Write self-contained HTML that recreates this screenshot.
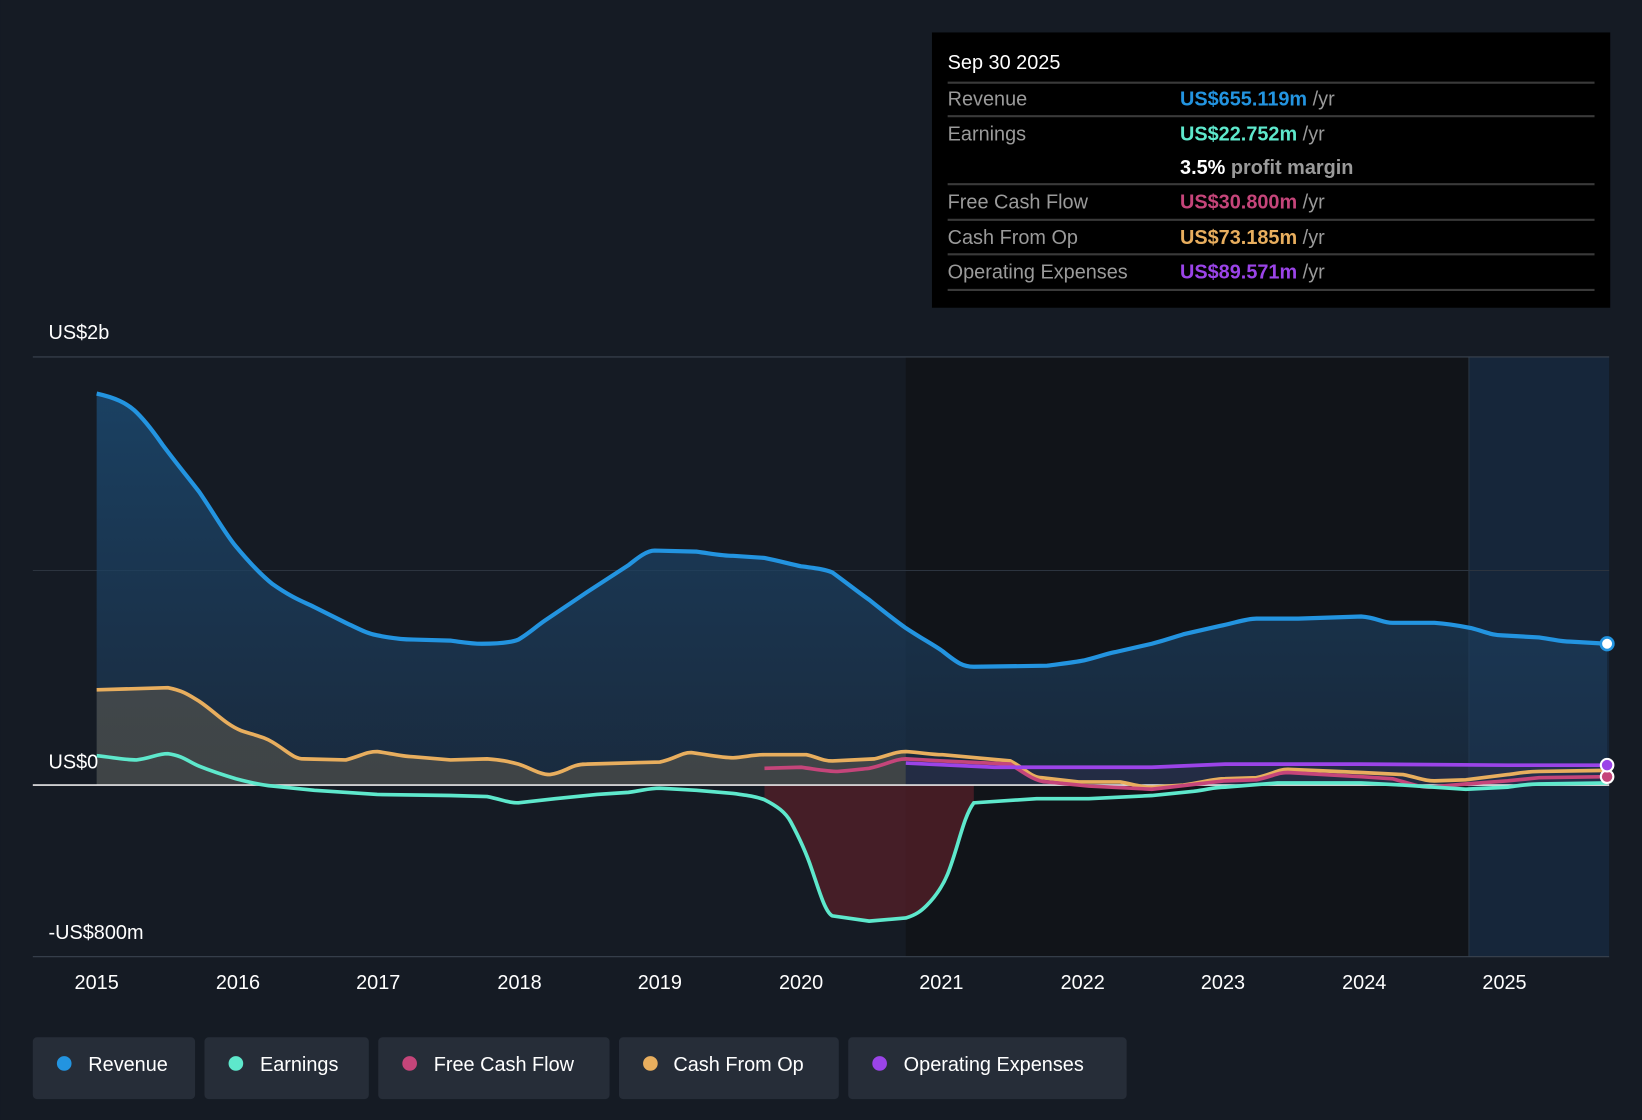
<!DOCTYPE html>
<html><head><meta charset="utf-8"><style>
html,body{margin:0;padding:0;background:#151b24;}
svg{display:block;font-family:"Liberation Sans",sans-serif;}
</style></head><body>
<svg width="1642" height="1120" viewBox="0 0 1568 1070" xmlns="http://www.w3.org/2000/svg">
<defs>
<linearGradient id="rg" x1="0" y1="0" x2="0" y2="1"><stop offset="0" stop-color="#1c4a72" stop-opacity="0.8"/><stop offset="1" stop-color="#1c3550" stop-opacity="0.6"/></linearGradient>
</defs>
<rect width="1568" height="1070" fill="#151b24"/>
<rect x="865" y="341" width="672" height="573" fill="#111419"/>
<rect x="1403" y="341" width="134" height="573" fill="#16263a"/>
<line x1="1403" y1="341" x2="1403" y2="914" stroke="#2a3644" stroke-width="1"/>
<line x1="31" y1="341" x2="1537" y2="341" stroke="#3a434f" stroke-width="1"/>
<line x1="31" y1="545" x2="1537" y2="545" stroke="#2c343f" stroke-width="1"/>
<line x1="31" y1="914" x2="1537" y2="914" stroke="#3a434f" stroke-width="1"/>
<!-- revenue fill -->
<path d="M92,750 L92,376 C110,380 120,385 128,392 C140,403 150,418 155,425 C170,445 180,457 190,470 C205,492 215,510 225,522 C240,540 250,550 260,558 C280,572 290,575 300,580 L330,595 C345,602 350,605 360,607 C375,610 385,611 395,611 L430,612 C445,614 450,615 460,615 C480,615 490,613 495,611 C505,605 510,600 520,593 L560,566 L600,540 C610,532 618,526 625,526 L665,527 C680,529 690,531 700,531 L730,533 C745,536 755,539 765,541 C780,543 788,544 795,547 C810,558 820,566 830,573 C845,585 855,593 865,600 C880,610 890,615 900,622 C915,634 920,637 930,637 L1000,636 C1015,634 1025,633 1035,631 C1048,628 1055,625 1065,623 L1100,615 C1115,611 1120,609 1130,606 L1165,598 C1180,595 1190,591 1200,591 L1240,591 L1300,589 C1315,590 1320,595 1330,595 L1370,595 C1385,596 1395,598 1405,600 C1420,604 1425,607 1435,607 L1470,609 C1485,611 1490,613 1500,613 L1535,615 L1535,750 Z" fill="url(#rg)"/>
<!-- cash op fill -->
<path d="M92,750 L92,659 L160,657 C175,660 180,664 190,670 C205,680 215,692 230,698 C245,703 252,704 260,709 C275,718 280,725 290,725 L330,726 C345,722 350,718 360,718 C375,720 385,723 395,723 L430,726 L465,725 C480,726 488,728 495,730 C505,733 515,740 525,740 C540,738 545,730 560,730 L630,728 C645,725 650,719 660,719 C675,721 690,724 700,724 C712,723 720,721 730,721 L770,721 C780,723 785,727 795,727 L835,725 C848,722 855,718 865,718 L865,750 Z" fill="#6e6450" fill-opacity="0.45"/>
<!-- earnings neg fill -->
<path d="M730,750 L730,764 C742,770 750,776 755,785 C762,798 770,815 775,830 C782,850 788,872 795,875 L830,880 L865,877 C875,874 880,870 885,865 C893,857 900,847 905,835 C915,810 920,780 930,767 L930,750 Z" fill="#5a1f2a" fill-opacity="0.7"/>
<path d="M865,750 L865,729 L950,733 L1100,733 L1170,730 L1300,730 L1440,731 L1535,731 L1535,750 Z" fill="#3a3456" fill-opacity="0.35"/>
<line x1="31" y1="750" x2="1537" y2="750" stroke="#e8e8e8" stroke-width="1.5"/>
<!-- lines -->
<path d="M92,376 C110,380 120,385 128,392 C140,403 150,418 155,425 C170,445 180,457 190,470 C205,492 215,510 225,522 C240,540 250,550 260,558 C280,572 290,575 300,580 L330,595 C345,602 350,605 360,607 C375,610 385,611 395,611 L430,612 C445,614 450,615 460,615 C480,615 490,613 495,611 C505,605 510,600 520,593 L560,566 L600,540 C610,532 618,526 625,526 L665,527 C680,529 690,531 700,531 L730,533 C745,536 755,539 765,541 C780,543 788,544 795,547 C810,558 820,566 830,573 C845,585 855,593 865,600 C880,610 890,615 900,622 C915,634 920,637 930,637 L1000,636 C1015,634 1025,633 1035,631 C1048,628 1055,625 1065,623 L1100,615 C1115,611 1120,609 1130,606 L1165,598 C1180,595 1190,591 1200,591 L1240,591 L1300,589 C1315,590 1320,595 1330,595 L1370,595 C1385,596 1395,598 1405,600 C1420,604 1425,607 1435,607 L1470,609 C1485,611 1490,613 1500,613 L1535,615" fill="none" stroke="#2394e0" stroke-width="4"/>
<path d="M92,659 L160,657 C175,660 180,664 190,670 C205,680 215,692 230,698 C245,703 252,704 260,709 C275,718 280,725 290,725 L330,726 C345,722 350,718 360,718 C375,720 385,723 395,723 L430,726 L465,725 C480,726 488,728 495,730 C505,733 515,740 525,740 C540,738 545,730 560,730 L630,728 C645,725 650,719 660,719 C675,721 690,724 700,724 C712,723 720,721 730,721 L770,721 C780,723 785,727 795,727 L835,725 C848,722 855,718 865,718 C880,719 890,721 900,721 L965,727 C980,735 985,743 995,743 L1030,747 L1070,747 C1085,750 1090,752 1100,752 L1130,750 C1150,747 1160,744 1170,744 L1200,743 C1215,740 1220,735 1230,735 L1300,738 L1340,740 C1355,743 1360,746 1370,746 L1400,745 L1440,740 C1455,738 1460,737 1470,737 L1535,736" fill="none" stroke="#e8ae5e" stroke-width="3.5"/>
<path d="M730,734 L765,733 C780,735 790,737 800,737 C815,736 820,735 830,734 C845,731 855,725 865,725 L900,727 L965,730 C980,740 990,747 1000,747 L1040,751 L1100,754 L1170,746 L1200,745 C1215,742 1220,738 1230,738 L1300,742 L1330,744 C1345,748 1355,752 1365,752 L1400,749 L1440,746 L1470,743 L1535,742" fill="none" stroke="#c5457a" stroke-width="3.5"/>
<path d="M92,722 C110,724 120,726 130,726 C145,724 150,720 160,720 C175,722 180,728 190,732 C205,738 215,741 225,744 C240,748 250,750 260,751 L300,755 L360,759 L430,760 L465,761 C480,764 485,767 495,767 L530,763 L570,759 L600,757 C615,755 620,753 630,753 L665,755 L700,758 C715,760 722,761 730,764 C742,770 750,776 755,785 C762,798 770,815 775,830 C782,850 788,872 795,875 L830,880 L865,877 C875,874 880,870 885,865 C893,857 900,847 905,835 C915,810 920,780 930,767 L990,763 L1040,763 L1100,760 L1140,756 C1155,754 1160,752 1170,752 L1220,748 L1300,748 L1340,750 L1400,754 L1440,752 C1455,750 1460,749 1470,749 L1535,748" fill="none" stroke="#5ee8cc" stroke-width="3.5"/>
<path d="M865,729 L950,733 L1100,733 L1170,730 L1300,730 L1440,731 L1535,731" fill="none" stroke="#9b44e8" stroke-width="3.5"/>
<circle cx="1535" cy="615" r="6" fill="#fff" stroke="#2394e0" stroke-width="2.5"/>
<circle cx="1535" cy="742" r="6" fill="#c5457a" stroke="#fff" stroke-width="2"/>
<circle cx="1535" cy="731" r="6" fill="#9b44e8" stroke="#fff" stroke-width="2"/>
<!-- axis labels -->
<g fill="#ffffff" font-size="19">
<text x="46" y="324">US$2b</text>
<text x="46" y="734">US$0</text>
<text x="46" y="897">-US$800m</text>
</g>
<g fill="#ffffff" font-size="19" text-anchor="middle">
<text x="92" y="945">2015</text><text x="227" y="945">2016</text><text x="361" y="945">2017</text><text x="496" y="945">2018</text><text x="630" y="945">2019</text><text x="765" y="945">2020</text><text x="899" y="945">2021</text><text x="1034" y="945">2022</text><text x="1168" y="945">2023</text><text x="1303" y="945">2024</text><text x="1437" y="945">2025</text>
</g>
<!-- tooltip -->
<rect x="890" y="31" width="648" height="263" fill="#000"/>
<g stroke="#3a3a3a" stroke-width="2">
<line x1="905" y1="79" x2="1523" y2="79"/><line x1="905" y1="111" x2="1523" y2="111"/><line x1="905" y1="176" x2="1523" y2="176"/><line x1="905" y1="210" x2="1523" y2="210"/><line x1="905" y1="243" x2="1523" y2="243"/><line x1="905" y1="277" x2="1523" y2="277"/>
</g>
<g font-size="19">
<text x="905" y="66" fill="#fff">Sep 30 2025</text>
<text x="905" y="101" fill="#9a9a9a">Revenue</text>
<text x="1127" y="101" fill="#2394e0" font-weight="bold">US$655.119m <tspan fill="#9a9a9a" font-weight="normal">/yr</tspan></text>
<text x="905" y="134" fill="#9a9a9a">Earnings</text>
<text x="1127" y="134" fill="#5ee8cc" font-weight="bold">US$22.752m <tspan fill="#9a9a9a" font-weight="normal">/yr</tspan></text>
<text x="1127" y="166" fill="#fff" font-weight="bold">3.5% <tspan fill="#9a9a9a">profit margin</tspan></text>
<text x="905" y="199" fill="#9a9a9a">Free Cash Flow</text>
<text x="1127" y="199" fill="#c5457a" font-weight="bold">US$30.800m <tspan fill="#9a9a9a" font-weight="normal">/yr</tspan></text>
<text x="905" y="233" fill="#9a9a9a">Cash From Op</text>
<text x="1127" y="233" fill="#e8ae5e" font-weight="bold">US$73.185m <tspan fill="#9a9a9a" font-weight="normal">/yr</tspan></text>
<text x="905" y="266" fill="#9a9a9a">Operating Expenses</text>
<text x="1127" y="266" fill="#9b44e8" font-weight="bold">US$89.571m <tspan fill="#9a9a9a" font-weight="normal">/yr</tspan></text>
</g>
<!-- legend -->
<g fill="#262d38">
<rect x="31" y="991" width="155" height="59" rx="4"/><rect x="195" y="991" width="157" height="59" rx="4"/><rect x="361" y="991" width="221" height="59" rx="4"/><rect x="591" y="991" width="210" height="59" rx="4"/><rect x="810" y="991" width="266" height="59" rx="4"/>
</g>
<circle cx="61" cy="1016" r="7" fill="#2394e0"/><circle cx="225" cy="1016" r="7" fill="#5ee8cc"/><circle cx="391" cy="1016" r="7" fill="#c5457a"/><circle cx="621" cy="1016" r="7" fill="#e8ae5e"/><circle cx="840" cy="1016" r="7" fill="#9b44e8"/>
<g fill="#fff" font-size="19">
<text x="84" y="1023">Revenue</text><text x="248" y="1023">Earnings</text><text x="414" y="1023">Free Cash Flow</text><text x="643" y="1023">Cash From Op</text><text x="863" y="1023">Operating Expenses</text>
</g>
</svg>
</body></html>
